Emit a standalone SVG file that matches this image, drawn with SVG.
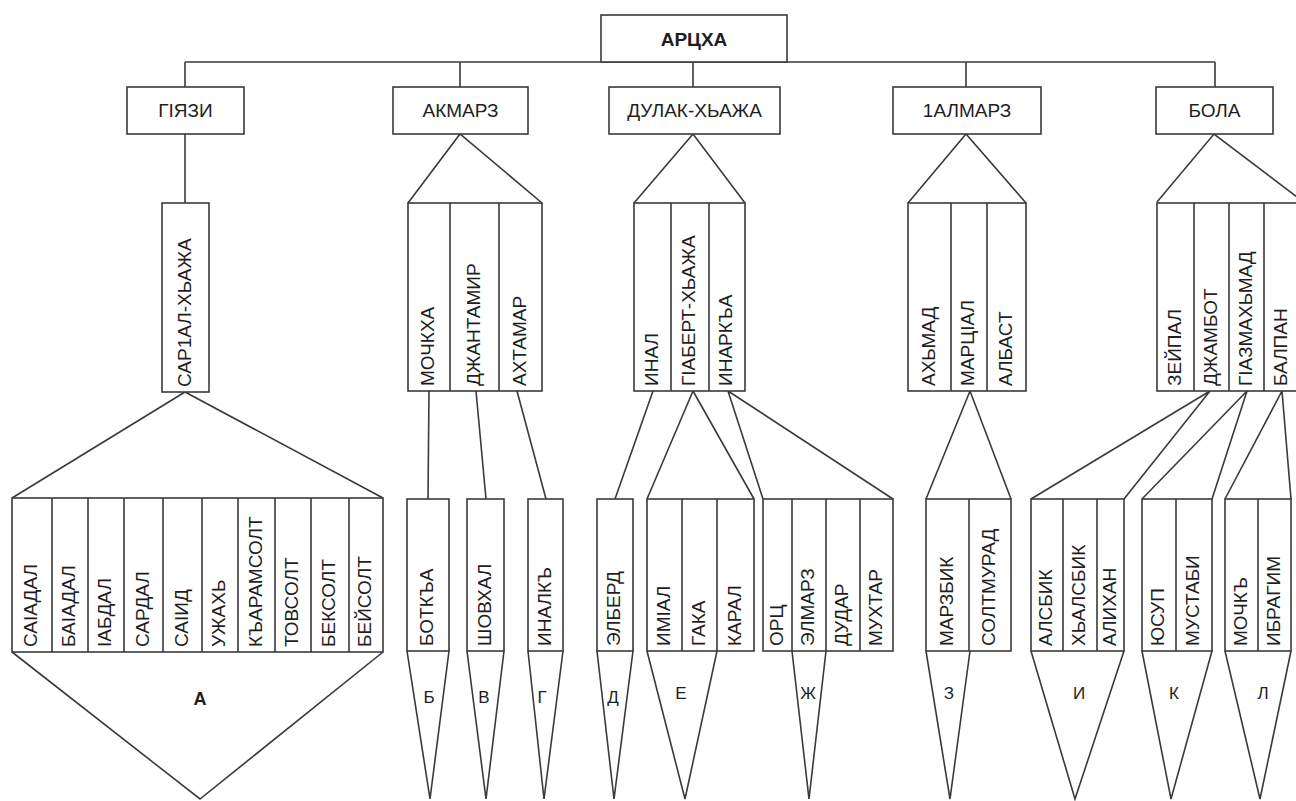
<svg xmlns="http://www.w3.org/2000/svg" width="1296" height="801" viewBox="0 0 1296 801">
<style>
  .box { fill: #ffffff; stroke: #3a3a3a; stroke-width: 1.6; }
  .ln { fill: none; stroke: #3a3a3a; stroke-width: 1.6; stroke-linejoin: miter; }
  .h { font-family: "Liberation Sans", Arial, sans-serif; font-size: 19px; fill: #1e1e1e; text-anchor: middle; }
  .t { font-family: "Liberation Sans", Arial, sans-serif; font-size: 19px; font-weight: bold; fill: #1e1e1e; text-anchor: middle; }
  .v { font-family: "Liberation Sans", Arial, sans-serif; font-size: 19px; fill: #1e1e1e; text-anchor: start; }
  .g { font-family: "Liberation Sans", Arial, sans-serif; font-size: 17px; fill: #1e1e1e; text-anchor: middle; }
  .gb { font-family: "Liberation Sans", Arial, sans-serif; font-size: 18px; font-weight: bold; fill: #1e1e1e; text-anchor: middle; }
</style>
<rect width="1296" height="801" fill="#ffffff"/>

<g id="connectors">
  <path class="ln" d="M185,62 H1215 M185,62 V87 M460,62 V87 M693,62 V87 M966,62 V87 M1215,62 V87"/>
  <path class="ln" d="M185,134 V203"/>
  <path class="ln" d="M12,498 L185,392 L383,498"/>
  <path class="ln" d="M408,203 L460,134 L542,203"/>
  <path class="ln" d="M634,203 L693,134 L745,203"/>
  <path class="ln" d="M908,203 L966,134 L1026,203"/>
  <path class="ln" d="M1157,202 L1214,134 L1305,203"/>
  <path class="ln" d="M429,391 L428,499 M476,391 L486,499 M517,391 L546,499"/>
  <path class="ln" d="M653,391 L615,499 M693,391 L647,499 M693,391 L754,499 M728,391 L763,499 M728,391 L893,499"/>
  <path class="ln" d="M970,391 L926,499 M970,391 L1011,499"/>
  <path class="ln" d="M1210,391 L1031,499 M1210,391 L1124,499 M1247,391 L1142,499 M1247,391 L1212,499 M1282,391 L1225,499 M1282,391 L1291,499"/>
</g>

<g id="arcxa">
  <rect class="box" x="601" y="15" width="186" height="47"/>
  <text class="t" x="694" y="46">АРЦХА</text>
</g>

<g id="giazi">
  <rect class="box" x="127" y="87" width="117" height="47"/>
  <text class="h" x="185.5" y="117">ГIЯЗИ</text>
</g>
<g id="akmarz">
  <rect class="box" x="393" y="87" width="135" height="47"/>
  <text class="h" x="460.5" y="117">АКМАРЗ</text>
</g>
<g id="dulak">
  <rect class="box" x="609" y="87" width="171" height="47"/>
  <text class="h" x="694.5" y="117">ДУЛАК-ХЬАЖА</text>
</g>
<g id="almarz">
  <rect class="box" x="893" y="87" width="148" height="47"/>
  <text class="h" x="967" y="117">1АЛМАРЗ</text>
</g>
<g id="bola">
  <rect class="box" x="1156" y="87" width="117" height="47"/>
  <text class="h" x="1214.5" y="117">БОЛА</text>
</g>

<g id="sarial">
  <rect class="box" x="162" y="203" width="47" height="189"/>
  <text class="v" transform="translate(191,387) rotate(-90)">САР1АЛ-ХЬАЖА</text>
</g>

<g id="group-a">
  <rect class="box" x="12" y="498" width="371" height="154"/>
  <path class="ln" d="M52,498 V652 M88,498 V652 M124,498 V652 M163,498 V652 M202,498 V652 M238,498 V652 M275,498 V652 M311,498 V652 M349,498 V652"/>
  <path class="ln" d="M12,652 L200,799 L383,652"/>
  <text class="v" transform="translate(37,647) rotate(-90)">САIАДАЛ</text>
  <text class="v" transform="translate(75,647) rotate(-90)">БАIАДАЛ</text>
  <text class="v" transform="translate(111,647) rotate(-90)">IАБДАЛ</text>
  <text class="v" transform="translate(148.5,647) rotate(-90)">САРДАЛ</text>
  <text class="v" transform="translate(187.5,647) rotate(-90)">САIИД</text>
  <text class="v" transform="translate(225,647) rotate(-90)">УЖАХЬ</text>
  <text class="v" transform="translate(261.5,647) rotate(-90)">КЪАРАМСОЛТ</text>
  <text class="v" transform="translate(298,647) rotate(-90)">ТОВСОЛТ</text>
  <text class="v" transform="translate(335,647) rotate(-90)">БЕКСОЛТ</text>
  <text class="v" transform="translate(371,647) rotate(-90)">БЕЙСОЛТ</text>
  <text class="gb" x="200" y="705">А</text>
</g>

<g id="akmarz-sub">
  <rect class="box" x="408" y="203" width="134" height="188"/>
  <path class="ln" d="M450,203 V391 M499,203 V391"/>
  <text class="v" transform="translate(434,386) rotate(-90)">МОЧКХА</text>
  <text class="v" transform="translate(480,386) rotate(-90)">ДЖАНТАМИР</text>
  <text class="v" transform="translate(526,386) rotate(-90)">АХТАМАР</text>
</g>
<g id="group-b">
  <rect class="box" x="407" y="499" width="42" height="152"/>
  <path class="ln" d="M407,651 L430,799 L449,651"/>
  <text class="v" transform="translate(433,646) rotate(-90)">БОТКЪА</text>
  <text class="g" x="429" y="703">Б</text>
</g>
<g id="group-v">
  <rect class="box" x="467" y="499" width="37" height="152"/>
  <path class="ln" d="M467,651 L486,799 L504,651"/>
  <text class="v" transform="translate(490.5,646) rotate(-90)">ШОВХАЛ</text>
  <text class="g" x="484" y="703">В</text>
</g>
<g id="group-g">
  <rect class="box" x="528" y="499" width="35" height="152"/>
  <path class="ln" d="M528,651 L544,799 L563,651"/>
  <text class="v" transform="translate(550.5,646) rotate(-90)">ИНАЛКЪ</text>
  <text class="g" x="542" y="703">Г</text>
</g>

<g id="dulak-sub">
  <rect class="box" x="634" y="203" width="111" height="188"/>
  <path class="ln" d="M671,203 V391 M709,203 V391"/>
  <text class="v" transform="translate(657.5,386) rotate(-90)">ИНАЛ</text>
  <text class="v" transform="translate(695,386) rotate(-90)">ГIАБЕРТ-ХЬАЖА</text>
  <text class="v" transform="translate(732,386) rotate(-90)">ИНАРКЪА</text>
</g>
<g id="group-d">
  <rect class="box" x="597" y="499" width="36" height="152"/>
  <path class="ln" d="M597,651 L614,799 L633,651"/>
  <text class="v" transform="translate(620,646) rotate(-90)">ЭЛБЕРД</text>
  <text class="g" x="613" y="703">Д</text>
</g>
<g id="group-e">
  <rect class="box" x="647" y="499" width="107" height="152"/>
  <path class="ln" d="M682,499 V651 M717,499 V651"/>
  <path class="ln" d="M647,651 L685,799 L717,651"/>
  <text class="v" transform="translate(669.5,646) rotate(-90)">ИМIАЛ</text>
  <text class="v" transform="translate(704.5,646) rotate(-90)">ГАКА</text>
  <text class="v" transform="translate(740.5,646) rotate(-90)">КАРАЛ</text>
  <text class="g" x="681" y="699">Е</text>
</g>
<g id="group-zh">
  <rect class="box" x="763" y="499" width="130" height="152"/>
  <path class="ln" d="M792,499 V651 M826,499 V651 M860,499 V651"/>
  <path class="ln" d="M792,651 L809,799 L826,651"/>
  <text class="v" transform="translate(782.5,646) rotate(-90)">ОРЦ</text>
  <text class="v" transform="translate(814,646) rotate(-90)">ЭЛМАРЗ</text>
  <text class="v" transform="translate(848,646) rotate(-90)">ДУДАР</text>
  <text class="v" transform="translate(881.5,646) rotate(-90)">МУХТАР</text>
  <text class="g" x="808" y="699">Ж</text>
</g>

<g id="almarz-sub">
  <rect class="box" x="908" y="203" width="118" height="188"/>
  <path class="ln" d="M951,203 V391 M987,203 V391"/>
  <text class="v" transform="translate(934.5,386) rotate(-90)">АХЬМАД</text>
  <text class="v" transform="translate(974,386) rotate(-90)">МАРЦIАЛ</text>
  <text class="v" transform="translate(1011.5,386) rotate(-90)">АЛБАСТ</text>
</g>
<g id="group-z">
  <rect class="box" x="926" y="499" width="85" height="152"/>
  <path class="ln" d="M969,499 V651"/>
  <path class="ln" d="M926,651 L950,799 L970,651"/>
  <text class="v" transform="translate(952.5,646) rotate(-90)">МАРЗБИК</text>
  <text class="v" transform="translate(995,646) rotate(-90)">СОЛТМУРАД</text>
  <text class="g" x="949" y="699">З</text>
</g>

<g id="bola-sub">
  <rect class="box" x="1157" y="203" width="143" height="188"/>
  <path class="ln" d="M1194,203 V391 M1229,203 V391 M1264,203 V391"/>
  <text class="v" transform="translate(1180.5,386) rotate(-90)">ЗЕЙПАЛ</text>
  <text class="v" transform="translate(1216.5,386) rotate(-90)">ДЖАМБОТ</text>
  <text class="v" transform="translate(1251.5,386) rotate(-90)">ГIАЗМАХЬМАД</text>
  <text class="v" transform="translate(1287,386) rotate(-90)">БАЛПАН</text>
</g>
<g id="group-i">
  <rect class="box" x="1031" y="499" width="93" height="152"/>
  <path class="ln" d="M1063,499 V651 M1097,499 V651"/>
  <path class="ln" d="M1031,651 L1075,799 L1124,651"/>
  <text class="v" transform="translate(1052,646) rotate(-90)">АЛСБИК</text>
  <text class="v" transform="translate(1085,646) rotate(-90)">ХЬАЛСБИК</text>
  <text class="v" transform="translate(1115.5,646) rotate(-90)">АЛИХАН</text>
  <text class="g" x="1079" y="699">И</text>
</g>
<g id="group-k">
  <rect class="box" x="1142" y="499" width="70" height="152"/>
  <path class="ln" d="M1176,499 V651"/>
  <path class="ln" d="M1142,651 L1171,799 L1212,651"/>
  <text class="v" transform="translate(1164,646) rotate(-90)">ЮСУП</text>
  <text class="v" transform="translate(1199,646) rotate(-90)">МУСТАБИ</text>
  <text class="g" x="1174" y="699">К</text>
</g>
<g id="group-l">
  <rect class="box" x="1225" y="499" width="66" height="152"/>
  <path class="ln" d="M1258,499 V651"/>
  <path class="ln" d="M1225,651 L1260,799 L1291,651"/>
  <text class="v" transform="translate(1246.5,646) rotate(-90)">МОЧКЪ</text>
  <text class="v" transform="translate(1279.5,646) rotate(-90)">ИБРАГИМ</text>
  <text class="g" x="1263" y="699">Л</text>
</g>
</svg>
